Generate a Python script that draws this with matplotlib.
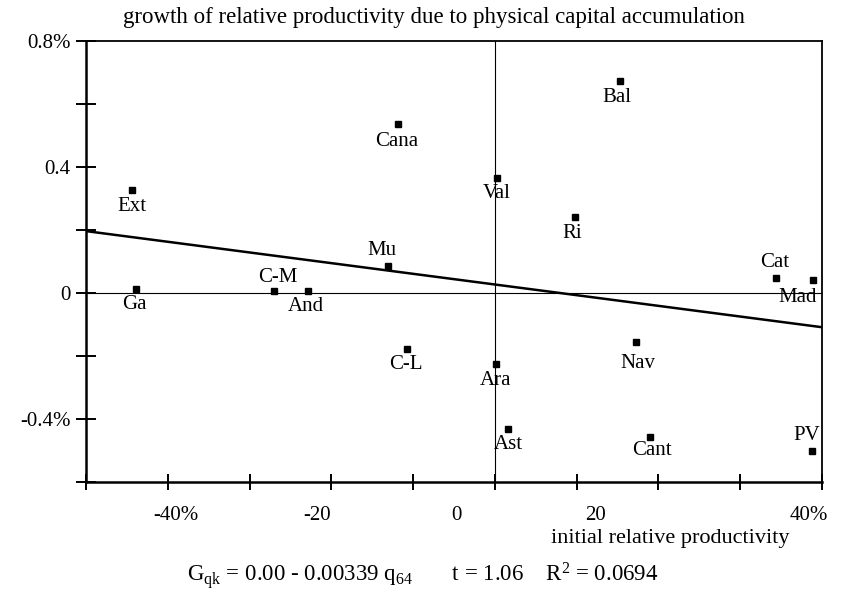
import matplotlib
matplotlib.use("Agg")
import matplotlib.pyplot as plt
import numpy as np

plt.rcParams['font.family'] = ['Liberation Serif', 'DejaVu Serif']
plt.rcParams['mathtext.fontset'] = 'custom'
plt.rcParams['mathtext.rm'] = 'Liberation Serif'
plt.rcParams['mathtext.it'] = 'Liberation Serif:italic'
plt.rcParams['axes.unicode_minus'] = False

# regions: initial relative productivity (%) vs growth due to capital (%)
regions = ['Ext', 'Ga', 'C-M', 'And', 'Mu', 'C-L', 'Cana', 'Val', 'Bal',
           'Ri', 'Cat', 'Mad', 'Nav', 'Ara', 'Ast', 'Cant', 'PV']
q64 = [-44.4, -43.9, -27.0, -22.9, -13.1, -10.7, -11.8, 0.2, 15.3,
       9.8, 34.4, 38.9, 17.3, 0.1, 1.6, 19.0, 38.8]
gqk = [0.328, 0.012, 0.005, 0.005, 0.086, -0.177, 0.535, 0.365, 0.673,
       0.242, 0.049, 0.040, -0.157, -0.225, -0.432, -0.456, -0.501]

# fitted line
intercept = 0.027
slope = -0.00339

x_range = [-50, 40]
y_range = [-0.6, 0.8]
x_label_pos = [-39.0, -21.8, -4.7, 12.3, 38.4]
x_label_txt = ['-40%', '-20', '0', '20', '40%']
y_label_pos = [0.8, 0.4, 0.0, -0.4]
y_label_txt = ['0.8%', '0.4', '0', '-0.4%']

# label offsets in points (dx, dy), placement only
offsets = {
    'Ext': (0, -12), 'Ga': (-1, -11), 'C-M': (3, 10), 'And': (-1, -11),
    'Mu': (-4, 11), 'C-L': (-1, -11), 'Cana': (-1, -12), 'Val': (0, -11),
    'Bal': (-2, -12), 'Ri': (-2, -12), 'Cat': (-1, 11), 'Mad': (-11, -12),
    'Nav': (1, -15), 'Ara': (0, -12), 'Ast': (0, -11), 'Cant': (1, -10),
    'PV': (-4, 11),
}

fs = 15

fig = plt.figure(figsize=(8.41, 6.08), dpi=100)
ax = fig.add_axes([0.1023, 0.2072, 0.8751, 0.7254])

ax.set_xlim(x_range)
ax.set_ylim(y_range)

ax.axhline(0, color='black', lw=0.8)
ax.axvline(0, color='black', lw=0.8)

xs = np.array(x_range, dtype=float)
ax.plot(xs, intercept + slope * xs, color='black', lw=1.8)

ax.plot(q64, gqk, 's', color='black', ms=4.2, ls='none')

for name, x, y in zip(regions, q64, gqk):
    dx, dy = offsets[name]
    ax.annotate(name, (x, y), xytext=(dx, dy), textcoords='offset points',
                ha='center', va='center', fontsize=fs)

ax.set_xticks(x_label_pos)
ax.set_xticklabels(x_label_txt)
ax.set_xticks(np.arange(-50, 41, 10), minor=True)
ax.tick_params(axis='x', which='major', length=0, pad=17, labelsize=fs)
ax.tick_params(axis='x', which='minor', direction='inout', length=12, width=1.4)

ax.set_yticks(y_label_pos)
ax.set_yticklabels(y_label_txt)
ax.set_yticks([0.6, 0.2, -0.2, -0.6], minor=True)
ax.tick_params(axis='y', which='both', direction='inout', length=14, width=1.4,
               labelsize=fs, pad=4)

for side in ['left', 'bottom']:
    ax.spines[side].set_linewidth(1.8)
for side in ['top', 'right']:
    ax.spines[side].set_linewidth(1.3)

fig.text(0.516, 1 - 17 / 608, 'growth of relative productivity due to physical capital accumulation',
         ha='center', va='center', fontsize=16.5)
fig.text(0.797, 1 - 538 / 608, 'initial relative productivity',
         ha='center', va='center', fontsize=16)
fig.text(0.503, 1 - 576 / 608,
         r'$\mathrm{G_{qk}}$ = 0.00 - 0.00339 $\mathrm{q_{64}}$       t = 1.06    $\mathrm{R^2}$ = 0.0694',
         ha='center', va='center', fontsize=16.5)

fig.savefig('out.png', dpi=100)
